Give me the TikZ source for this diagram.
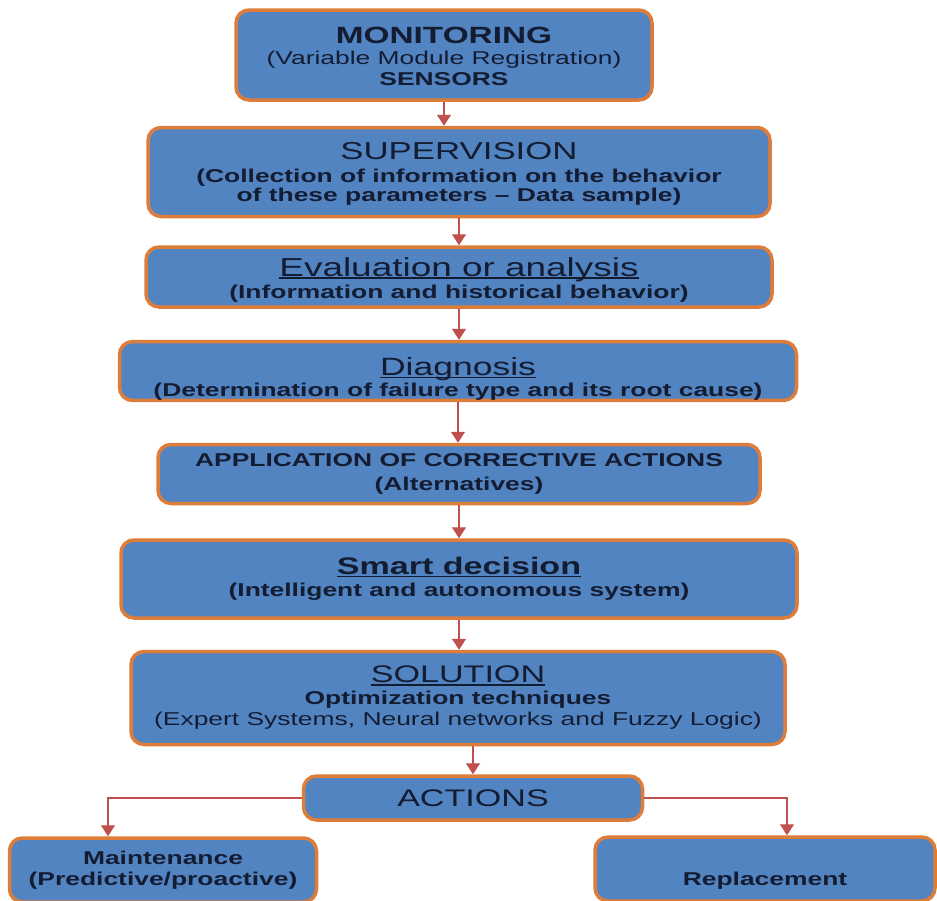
\documentclass[tikz,border=0pt]{standalone}
\usepackage{fontspec}
\setmainfont{Liberation Sans}[FakeStretch=1.42]
\usetikzlibrary{arrows.meta}

\definecolor{boxblue}{RGB}{82,132,194}
\definecolor{boxedge}{RGB}{222,124,58}
\definecolor{arrowred}{RGB}{192,80,77}
\definecolor{textnavy}{RGB}{20,28,50}

\setlength{\lineskiplimit}{-50pt}
\newcommand{\fsz}[1]{\fontsize{#1}{#1}\selectfont}
\newcommand{\lift}[1]{\rule{0pt}{#1}}
\newsavebox{\ulbox}
\newcommand{\ul}[1]{\sbox{\ulbox}{#1}\rlap{\rule[-2.6pt]{\wd\ulbox}{1.3pt}}\usebox{\ulbox}}

\tikzset{
  box/.style={draw=boxedge, line width=3.5pt, fill=boxblue, rounded corners=13pt,
    align=center, text=textnavy, inner sep=0pt,
    font=\fontsize{18.6}{21}\selectfont},
  arr/.style={draw=arrowred, line width=1.3pt,
    -{Triangle[length=11pt,width=14pt]}}
}

\begin{document}
\begin{tikzpicture}[x=1pt,y=-1pt]
  \useasboundingbox (0,0) rectangle (937,900);

  \node[box, minimum width=416pt, minimum height=90pt] (mon) at (444,55)
    {\lift{18.3pt}{\fsz{23.5}\bfseries MONITORING}\\
     (Variable Module Registration)\\
     \bfseries SENSORS};
  \node[box, minimum width=622pt, minimum height=89pt] (sup) at (459,172)
    {\lift{21pt}{\fsz{24.5}SUPERVISION}\\[2pt]
     \bfseries (Collection of information on the behavior\\[-2pt]
     \bfseries of these parameters -- Data sample)};
  \node[box, minimum width=626pt, minimum height=60pt] (eva) at (459,277)
    {\lift{24pt}{\fsz{26}\ul{Evaluation or analysis}}\\[1pt]
     \bfseries (Information and historical behavior)};
  \node[box, minimum width=677pt, minimum height=58pt] (dia) at (458,371)
    {\lift{34pt}{\fsz{25}\ul{Diagnosis}}\\[0pt]
     \bfseries (Determination of failure type and its root cause)};
  \node[box, minimum width=602pt, minimum height=59pt] (app) at (459,474)
    {\bfseries APPLICATION OF CORRECTIVE ACTIONS\\[3pt]
     \bfseries (Alternatives)};
  \node[box, minimum width=676pt, minimum height=78pt] (sma) at (459,579)
    {{\fsz{24}\bfseries\ul{Smart decision}}\\[1pt]
     \bfseries (Intelligent and autonomous system)};
  \node[box, minimum width=654pt, minimum height=93pt] (sol) at (458,698)
    {{\fsz{24}\ul{SOLUTION}}\\[1pt]
     \bfseries Optimization techniques\\
     (Expert Systems, Neural networks and Fuzzy Logic)};
  \node[box, minimum width=339pt, minimum height=44pt] (act) at (473,798)
    {\fsz{24}ACTIONS};
  \node[box, minimum width=307pt, minimum height=64pt] (mai) at (163,870)
    {\bfseries Maintenance\\
     \bfseries (Predictive/proactive)};
  \node[box, minimum width=340pt, minimum height=64pt] (rep) at (765,869)
    {\raisebox{-16pt}[0pt][0pt]{\bfseries Replacement}};

  \coordinate (lbend) at (108,800);
  \coordinate (rbend) at (787,800);

  \draw[arr] (mon.south) -- (mon.south |- sup.north);
  \draw[arr] (sup.south) -- (sup.south |- eva.north);
  \draw[arr] (eva.south) -- (eva.south |- dia.north);
  \draw[arr] (dia.south) -- (dia.south |- app.north);
  \draw[arr] (app.south) -- (app.south |- sma.north);
  \draw[arr] (sma.south) -- (sma.south |- sol.north);
  \draw[arr] (act.north |- sol.south) -- (act.north);
  \draw[arr] (act.west) -| (lbend |- mai.north);
  \draw[arr] (act.east) -| (rbend |- rep.north);
\end{tikzpicture}
\end{document}
